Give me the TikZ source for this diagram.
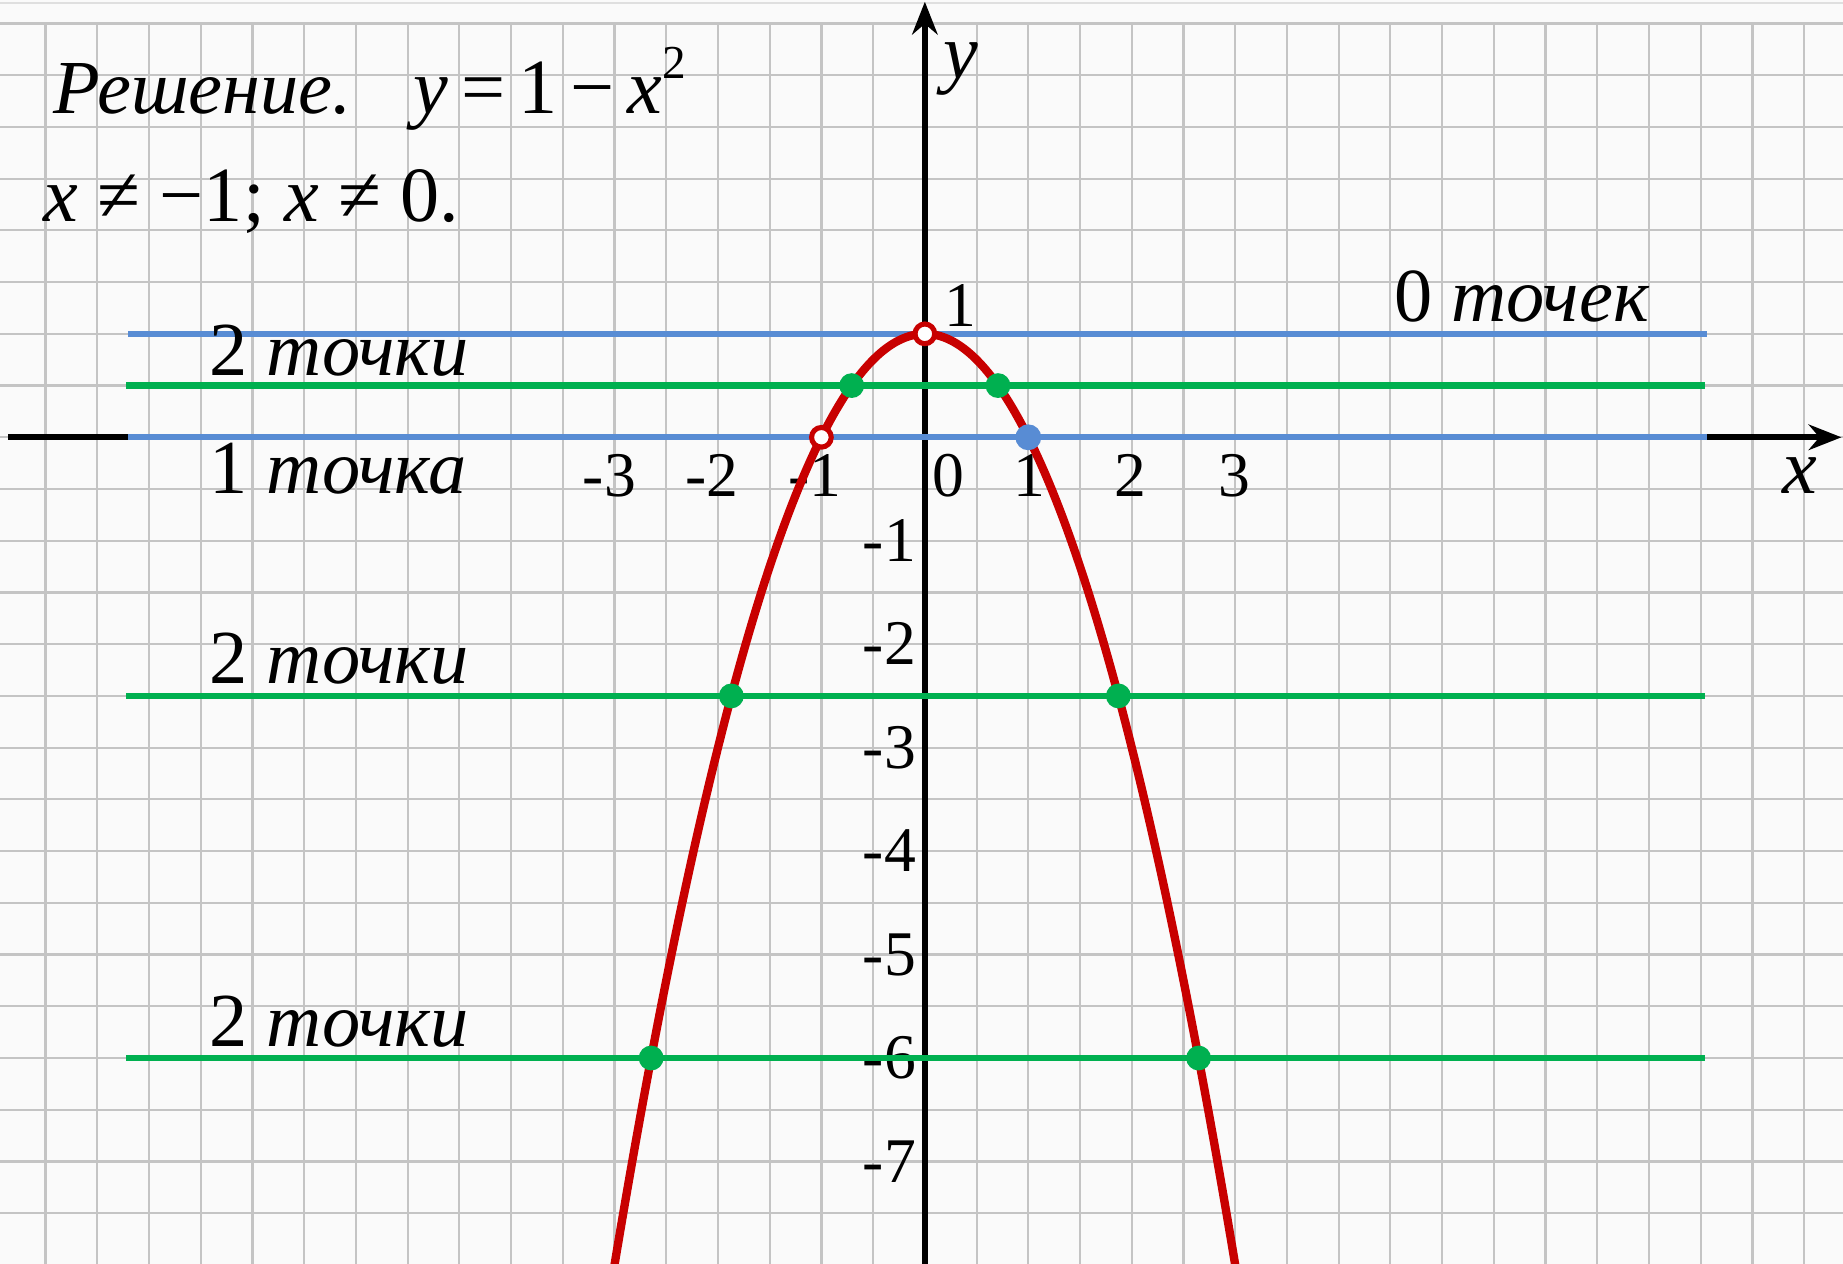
\documentclass[tikz,border=0pt]{standalone}
\usepackage{fontspec}
\setmainfont{Liberation Serif}
\usepackage{tikz}
\usetikzlibrary{arrows.meta,calc}
\definecolor{paper}{RGB}{250,250,250}
\definecolor{cell}{RGB}{196,196,196}
\definecolor{crv}{RGB}{200,0,0}
\definecolor{lvl}{RGB}{88,140,212}
\definecolor{hit}{RGB}{0,176,80}

\begin{document}
\begin{tikzpicture}[>={Stealth[length=9pt,width=7pt]},
  cellline/.style={cell,line width=0.6pt},
  axisline/.style={black,line width=1.6pt},
  level/.style={line width=1.7pt},
  tick/.style={font=\fontsize{17.5}{17.5}\selectfont,inner sep=0pt},
  note/.style={font=\fontsize{21}{21}\selectfont,inner sep=0pt,anchor=base west},
  holedot/.style={fill=white,draw=crv,line width=1.4pt}]
  \useasboundingbox[fill=paper] (-8.94,-7.99) rectangle (8.875,4.227);
  \clip (-8.94,-7.99) rectangle (8.875,4.227);
  % squared paper
  \draw[cellline] (-9,-8.5) grid[step=0.5] (9,4);
  \draw[gray!25,line width=0.5pt] (-9,4.2) -- (9,4.2);
  % axes
  \coordinate (xw) at (-8.86,0); \coordinate (xe) at (8.86,0);
  \coordinate (ys) at (0,-8.2); \coordinate (yn) at (0,4.21);
  \draw[axisline,->] (xw) -- (xe);
  \draw[axisline,->] (ys) -- (yn);
  \node[note,anchor=base,font=\fontsize{21.5}{21.5}\selectfont\itshape] (xlab) at (8.46,-0.54) {x};
  \node[note,anchor=base,font=\fontsize{21.5}{21.5}\selectfont\itshape] (ylab) at (0.35,3.47) {y};
  % tick labels
  \foreach \v/\p in {-3/-3.05,-2/-2.06,-1/-1.06,0/0.23,1/1.01,2/1.99,3/2.99}
    \node[tick,anchor=base] (xt\v) at (\p,-0.575) {\v};
  \foreach \v in {1,...,7}
    \node[tick,anchor=base east] (yt\v) at (-0.08,-\v-0.2) {-\v};
  \node[tick,anchor=base west] (yt0) at (0.18,1.07) {1};
  % level lines y = a
  \draw[level,lvl] (-7.70,1) -- (7.56,1);
  \draw[level,lvl] (-7.70,0) -- (7.56,0);
  \foreach \yy in {0.5,-2.5,-6} \draw[level,hit] (-7.72,\yy) -- (7.54,\yy);
  % the parabola
  \draw[crv,line width=2.3pt] plot[domain=-3.05:3.05,samples=121,smooth] (\x,{1-\x*\x});
  % common points
  \foreach \yy in {0.5,-2.5,-6} {
    \fill[hit] ({sqrt(1-\yy)},\yy) circle (0.12);
    \fill[hit] ({-sqrt(1-\yy)},\yy) circle (0.12);
  }
  \fill[lvl] (1,0) circle (0.125);
  \draw[holedot] (0,1) circle (0.095);
  \draw[holedot] (-1,0) circle (0.095);
  % counts
  \node[note] (cnt0) at (4.53,1.12) {0 \textit{точек}};
  \node[note] (cnt2a) at (-6.92,0.60) {2 \textit{точки}};
  \node[note] (cnt1) at (-6.92,-0.54) {1 \textit{точка}};
  \node[note] (cnt2b) at (-6.92,-2.38) {2 \textit{точки}};
  \node[note] (cnt2c) at (-6.92,-5.89) {2 \textit{точки}};
  % heading
  \node[note,font=\fontsize{21}{21}\selectfont\itshape] (sol) at (-8.43,3.13) {Решение.};
  \node[note,font=\fontsize{21.5}{21.5}\selectfont] (eqn) at (-4.95,3.13) {\textit{y}\,=\,1\,−\,\textit{x}\raisebox{0.45em}{\fontsize{13}{13}\selectfont 2}};
  \node[note,font=\fontsize{21.5}{21.5}\selectfont] (dom) at (-8.53,2.09) {\textit{x} ≠ −1; \textit{x} ≠ 0.};
\end{tikzpicture}
\end{document}
